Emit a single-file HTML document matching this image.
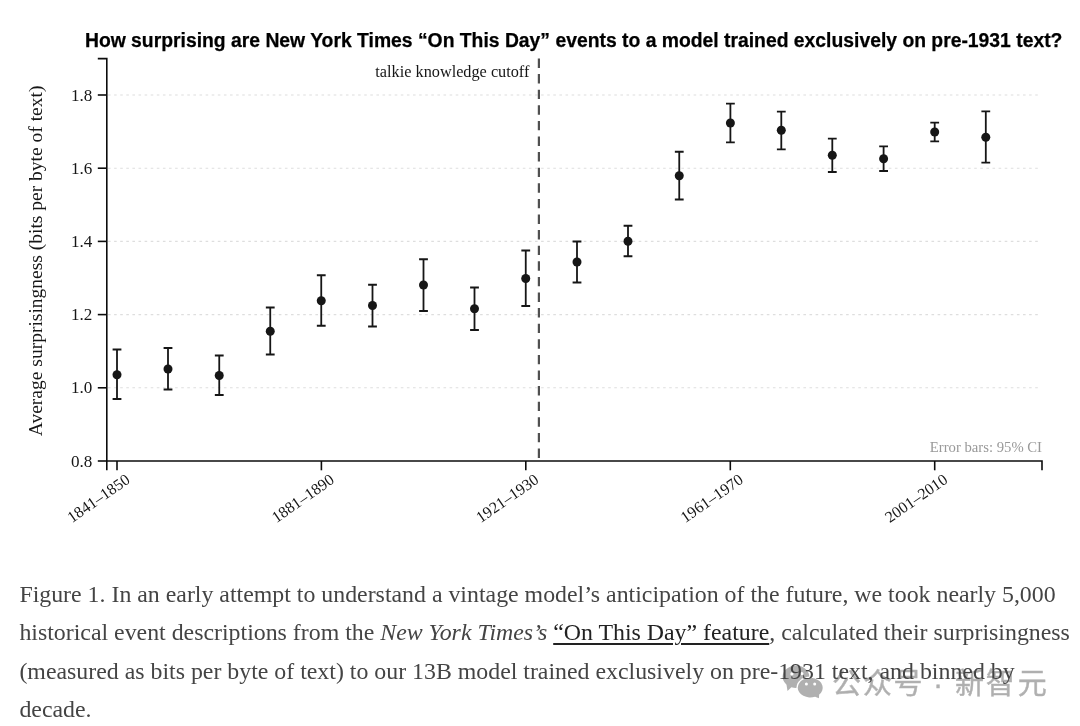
<!DOCTYPE html>
<html lang="en"><head><meta charset="utf-8"><title>Figure 1</title>
<style>
html,body{margin:0;padding:0;background:#fff;}
body{width:1080px;height:726px;position:relative;overflow:hidden;font-family:"Liberation Serif","Noto Serif CJK SC",serif;}
svg text{font-family:"Liberation Serif",serif;fill:#161616;}
svg .ttl{font-family:"Liberation Sans",sans-serif;font-weight:bold;font-size:19.34px;fill:#000;stroke:#000;stroke-width:.25px;}
svg .tk{font-size:17.1px;}
svg .xt{font-size:16px;}
svg .yl{font-size:19.5px;}
svg .ann{font-size:16.25px;}
svg .eb{font-size:14.7px;fill:#999;}
.cap{position:absolute;left:19.4px;top:575px;width:1061px;margin:0;font-size:23.85px;line-height:38.34px;color:#444;white-space:nowrap;}
.cap u{color:#222;text-decoration-thickness:1.5px;text-underline-offset:3px;}
.wmk{position:absolute;left:0;top:0;}
svg .wmt{font-family:"Liberation Sans","Noto Sans CJK SC",sans-serif;font-size:29px;fill:#000;stroke:#000;stroke-width:.5px;}
</style></head>
<body>
<svg width="1080" height="560" viewBox="0 0 1080 560" style="position:absolute;left:0;top:0">
<line x1="108" x2="1041" y1="95" y2="95" stroke="#dedede" stroke-width="1.1" stroke-dasharray="2.6 3.5"/>
<line x1="108" x2="1041" y1="168.2" y2="168.2" stroke="#dedede" stroke-width="1.1" stroke-dasharray="2.6 3.5"/>
<line x1="108" x2="1041" y1="241.4" y2="241.4" stroke="#dedede" stroke-width="1.1" stroke-dasharray="2.6 3.5"/>
<line x1="108" x2="1041" y1="314.6" y2="314.6" stroke="#dedede" stroke-width="1.1" stroke-dasharray="2.6 3.5"/>
<line x1="108" x2="1041" y1="387.8" y2="387.8" stroke="#dedede" stroke-width="1.1" stroke-dasharray="2.6 3.5"/>
<line x1="538.9" x2="538.9" y1="58.5" y2="461" stroke="#505050" stroke-width="2.2" stroke-dasharray="9.4 6.2"/>
<path d="M97.8,58.6H106.8V470.3M106.8,461H1042V470.3" fill="none" stroke="#0c0c0c" stroke-width="1.6"/>
<line x1="97.8" x2="107" y1="95" y2="95" stroke="#0c0c0c" stroke-width="1.6"/>
<text x="92.3" y="100.6" text-anchor="end" class="tk">1.8</text>
<line x1="97.8" x2="107" y1="168.2" y2="168.2" stroke="#0c0c0c" stroke-width="1.6"/>
<text x="92.3" y="173.79999999999998" text-anchor="end" class="tk">1.6</text>
<line x1="97.8" x2="107" y1="241.4" y2="241.4" stroke="#0c0c0c" stroke-width="1.6"/>
<text x="92.3" y="247.0" text-anchor="end" class="tk">1.4</text>
<line x1="97.8" x2="107" y1="314.6" y2="314.6" stroke="#0c0c0c" stroke-width="1.6"/>
<text x="92.3" y="320.20000000000005" text-anchor="end" class="tk">1.2</text>
<line x1="97.8" x2="107" y1="387.8" y2="387.8" stroke="#0c0c0c" stroke-width="1.6"/>
<text x="92.3" y="393.40000000000003" text-anchor="end" class="tk">1.0</text>
<line x1="97.8" x2="107" y1="461" y2="461" stroke="#0c0c0c" stroke-width="1.6"/>
<text x="92.3" y="466.6" text-anchor="end" class="tk">0.8</text>
<line x1="117" x2="117" y1="461" y2="470.3" stroke="#0c0c0c" stroke-width="1.6"/>
<text transform="translate(131,482) rotate(-35)" text-anchor="end" class="xt">1841–1850</text>
<line x1="321.4" x2="321.4" y1="461" y2="470.3" stroke="#0c0c0c" stroke-width="1.6"/>
<text transform="translate(335.4,482) rotate(-35)" text-anchor="end" class="xt">1881–1890</text>
<line x1="525.8" x2="525.8" y1="461" y2="470.3" stroke="#0c0c0c" stroke-width="1.6"/>
<text transform="translate(539.8,482) rotate(-35)" text-anchor="end" class="xt">1921–1930</text>
<line x1="730.3" x2="730.3" y1="461" y2="470.3" stroke="#0c0c0c" stroke-width="1.6"/>
<text transform="translate(744.3,482) rotate(-35)" text-anchor="end" class="xt">1961–1970</text>
<line x1="934.7" x2="934.7" y1="461" y2="470.3" stroke="#0c0c0c" stroke-width="1.6"/>
<text transform="translate(948.7,482) rotate(-35)" text-anchor="end" class="xt">2001–2010</text>
<path d="M112.6,349.5H121.4M112.6,399.0H121.4M117.0,349.5V399.0" fill="none" stroke="#161616" stroke-width="1.8"/>
<circle cx="117.0" cy="374.75" r="4.5" fill="#161616"/>
<path d="M163.6,348.0H172.4M163.6,389.5H172.4M168.0,348.0V389.5" fill="none" stroke="#161616" stroke-width="1.8"/>
<circle cx="168.0" cy="369.0" r="4.5" fill="#161616"/>
<path d="M214.85,355.5H223.65M214.85,395.0H223.65M219.25,355.5V395.0" fill="none" stroke="#161616" stroke-width="1.8"/>
<circle cx="219.25" cy="375.5" r="4.5" fill="#161616"/>
<path d="M265.85,307.5H274.65M265.85,354.5H274.65M270.25,307.5V354.5" fill="none" stroke="#161616" stroke-width="1.8"/>
<circle cx="270.25" cy="331.25" r="4.5" fill="#161616"/>
<path d="M316.85,275.25H325.65M316.85,325.75H325.65M321.25,275.25V325.75" fill="none" stroke="#161616" stroke-width="1.8"/>
<circle cx="321.25" cy="300.75" r="4.5" fill="#161616"/>
<path d="M368.1,284.75H376.9M368.1,326.5H376.9M372.5,284.75V326.5" fill="none" stroke="#161616" stroke-width="1.8"/>
<circle cx="372.5" cy="305.5" r="4.5" fill="#161616"/>
<path d="M419.1,259.25H427.9M419.1,311.0H427.9M423.5,259.25V311.0" fill="none" stroke="#161616" stroke-width="1.8"/>
<circle cx="423.5" cy="285.0" r="4.5" fill="#161616"/>
<path d="M470.1,287.5H478.9M470.1,330.0H478.9M474.5,287.5V330.0" fill="none" stroke="#161616" stroke-width="1.8"/>
<circle cx="474.5" cy="308.75" r="4.5" fill="#161616"/>
<path d="M521.35,250.5H530.15M521.35,306.0H530.15M525.75,250.5V306.0" fill="none" stroke="#161616" stroke-width="1.8"/>
<circle cx="525.75" cy="278.5" r="4.5" fill="#161616"/>
<path d="M572.6,241.5H581.4M572.6,282.5H581.4M577.0,241.5V282.5" fill="none" stroke="#161616" stroke-width="1.8"/>
<circle cx="577.0" cy="262.0" r="4.5" fill="#161616"/>
<path d="M623.6,225.75H632.4M623.6,256.25H632.4M628.0,225.75V256.25" fill="none" stroke="#161616" stroke-width="1.8"/>
<circle cx="628.0" cy="241.25" r="4.5" fill="#161616"/>
<path d="M674.85,151.75H683.65M674.85,199.5H683.65M679.25,151.75V199.5" fill="none" stroke="#161616" stroke-width="1.8"/>
<circle cx="679.25" cy="175.75" r="4.5" fill="#161616"/>
<path d="M726.0,103.7H734.8M726.0,142.3H734.8M730.4,103.7V142.3" fill="none" stroke="#161616" stroke-width="1.8"/>
<circle cx="730.4" cy="123.0" r="4.5" fill="#161616"/>
<path d="M776.9,111.7H785.6999999999999M776.9,149.3H785.6999999999999M781.3,111.7V149.3" fill="none" stroke="#161616" stroke-width="1.8"/>
<circle cx="781.3" cy="130.3" r="4.5" fill="#161616"/>
<path d="M827.9,138.7H836.6999999999999M827.9,172.0H836.6999999999999M832.3,138.7V172.0" fill="none" stroke="#161616" stroke-width="1.8"/>
<circle cx="832.3" cy="155.3" r="4.5" fill="#161616"/>
<path d="M879.2,146.3H888.0M879.2,171.0H888.0M883.6,146.3V171.0" fill="none" stroke="#161616" stroke-width="1.8"/>
<circle cx="883.6" cy="158.7" r="4.5" fill="#161616"/>
<path d="M930.3000000000001,122.7H939.1M930.3000000000001,141.3H939.1M934.7,122.7V141.3" fill="none" stroke="#161616" stroke-width="1.8"/>
<circle cx="934.7" cy="132.0" r="4.5" fill="#161616"/>
<path d="M981.4,111.3H990.1999999999999M981.4,162.7H990.1999999999999M985.8,111.3V162.7" fill="none" stroke="#161616" stroke-width="1.8"/>
<circle cx="985.8" cy="137.3" r="4.5" fill="#161616"/>
<text x="573.7" y="47" text-anchor="middle" class="ttl">How surprising are New York Times “On This Day” events to a model trained exclusively on pre-1931 text?</text>
<text transform="translate(41.6,260.9) rotate(-90)" text-anchor="middle" class="yl">Average surprisingness (bits per byte of text)</text>
<text x="529.4" y="77.3" text-anchor="end" class="ann">talkie knowledge cutoff</text>
<text x="1042" y="452" text-anchor="end" class="eb">Error bars: 95% CI</text>
</svg>

<svg class="wmk" width="1080" height="726" viewBox="0 0 1080 726">
<g fill="#000" fill-opacity=".31">
<path d="M791.4,687.3L787.5,690.9L786.5,684.7A13.4,11.2 0 1 1 791.4,687.3Z"/>
</g>
<ellipse cx="810.4" cy="687.6" rx="13.9" ry="11.1" fill="#fff"/>
<g fill="#000" fill-opacity=".31">
<path d="M819.2,694.5L818.9,698.3L815.1,696.7A12.5,9.8 0 1 1 819.2,694.5Z"/>
</g>
<g fill="#fff"><circle cx="791.9" cy="673.9" r="1.6"/><circle cx="801.8" cy="673.6" r="1.6"/><circle cx="806.4" cy="684.1" r="1.5"/><circle cx="814.7" cy="683.9" r="1.5"/></g>
<g opacity=".31"><text class="wmt" y="694.4" x="846.5 877.5 908 938.2 969.5 1000.3 1032.2" text-anchor="middle">公众号·新智元</text></g>
</svg>
<p class="cap">Figure 1. In an early attempt to understand a vintage model’s anticipation of the future, we took nearly 5,000<br>historical event descriptions from the <i>New York Times’s</i> <u>“On This Day” feature</u>, calculated their surprisingness<br>(measured as bits per byte of text) to our 13B model trained exclusively on pre-1931 text, and binned by<br>decade.</p>
</body></html>
